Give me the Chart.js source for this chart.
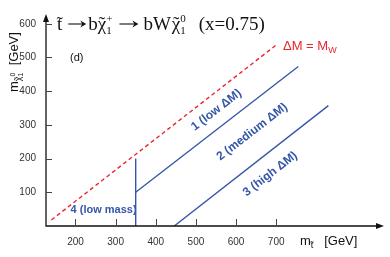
<!DOCTYPE html>
<html>
<head>
<meta charset="utf-8">
<script src="https://cdn.jsdelivr.net/npm/chart.js@4/dist/chart.umd.min.js"></script>
<style>
  html, body { margin: 0; padding: 0; background: #fff; }
  #wrap { width: 390px; height: 257px; }
</style>
</head>
<body>
<div id="wrap"><canvas id="regionsChart" width="390" height="257"></canvas></div>
<script>
// boundary lines of the search regions (schematic)
const deltaMwX = [140, 700];
const deltaMwY = [18, 537];
const lowDmX = [350, 755];
const lowDmY = [100, 473];
const lowMassX = [350, 350];
const lowMassY = [0, 200];
const highDmX = [446, 830];
const highDmY = [0, 357];

// axis ticks
const xTicks = [200, 300, 400, 500, 600, 700];
const yTicks = [100, 200, 300, 400, 500, 600];

// region labels: text and anchor in data units
const regionNames = ['1 (low \u0394M)', '2 (medium \u0394M)', '3 (high \u0394M)'];
const regionAnchorX = [551, 640, 685];
const regionAnchorY = [344, 279, 154];

const BLUE = '#3557a8';
const RED = '#e8262f';

const pts = (xs, ys) => xs.map((x, i) => ({ x: x, y: ys[i] }));

const lineSet = (label, xs, ys, color, dash) => ({
  label: label,
  data: pts(xs, ys),
  borderColor: color,
  borderWidth: 1.4,
  borderDash: dash || [],
  pointRadius: 0,
  fill: false,
  tension: 0,
});

// draws text with a small tilde above it, returns width
function tilded(ctx, txt, x, y) {
  ctx.fillText(txt, x, y);
  const w = ctx.measureText(txt).width;
  ctx.save();
  ctx.textAlign = 'center';
  ctx.fillText('\u02DC', x + w / 2, y);
  ctx.restore();
  return w;
}

// walks a list of pieces and draws them left to right
function drawPieces(ctx, pieces, x, y) {
  ctx.textAlign = 'left';
  ctx.textBaseline = 'alphabetic';
  let cx = x;
  pieces.forEach(p => {
    cx += p.pre || 0;
    if (p.arrow) {
      const ay = y - 6;
      ctx.save();
      ctx.strokeStyle = ctx.fillStyle;
      ctx.lineWidth = 1.1;
      ctx.beginPath();
      ctx.moveTo(cx, ay);
      ctx.lineTo(cx + p.arrow - 2, ay);
      ctx.stroke();
      ctx.beginPath();
      ctx.moveTo(cx + p.arrow, ay);
      ctx.lineTo(cx + p.arrow - 6, ay - 3.5);
      ctx.lineTo(cx + p.arrow - 4, ay);
      ctx.lineTo(cx + p.arrow - 6, ay + 3.5);
      ctx.closePath();
      ctx.fill();
      ctx.restore();
      cx += p.arrow;
    } else if (p.stack) {
      ctx.font = p.font;
      ctx.fillText(p.sup, cx, y + p.supDy);
      ctx.fillText(p.sub, cx, y + p.subDy);
      cx += Math.max(ctx.measureText(p.sup).width, ctx.measureText(p.sub).width);
    } else {
      ctx.font = p.font;
      if (p.tilde) cx += tilded(ctx, p.t, cx, y + (p.dy || 0));
      else {
        ctx.fillText(p.t, cx, y + (p.dy || 0));
        cx += ctx.measureText(p.t).width;
      }
    }
    cx += p.gap || 0;
  });
  return cx;
}

const decorations = {
  id: 'decorations',
  afterDraw(chart) {
    const ctx = chart.ctx;
    const a = chart.chartArea;
    const xs = chart.scales.x, ys = chart.scales.y;
    ctx.save();

    // axes with arrow heads
    ctx.strokeStyle = '#111';
    ctx.fillStyle = '#111';
    ctx.lineWidth = 1.3;
    ctx.beginPath();
    ctx.moveTo(a.left, a.top + 2);
    ctx.lineTo(a.left, a.bottom);
    ctx.lineTo(a.right - 2, a.bottom);
    ctx.stroke();
    ctx.beginPath();
    ctx.moveTo(a.left, a.top - 1);
    ctx.lineTo(a.left - 3, a.top + 7);
    ctx.lineTo(a.left + 3, a.top + 7);
    ctx.closePath();
    ctx.fill();
    ctx.beginPath();
    ctx.moveTo(a.right + 1, a.bottom);
    ctx.lineTo(a.right - 7, a.bottom - 3);
    ctx.lineTo(a.right - 7, a.bottom + 3);
    ctx.closePath();
    ctx.fill();

    // inward tick marks
    ctx.strokeStyle = '#444';
    ctx.lineWidth = 1;
    ctx.beginPath();
    xTicks.forEach(v => {
      const px = Math.round(xs.getPixelForValue(v)) + 0.5;
      ctx.moveTo(px, a.bottom);
      ctx.lineTo(px, a.bottom - 7);
    });
    yTicks.forEach(v => {
      const py = Math.round(ys.getPixelForValue(v)) + 0.5;
      ctx.moveTo(a.left, py);
      ctx.lineTo(a.left + 6, py);
    });
    ctx.stroke();

    // title
    ctx.fillStyle = '#111';
    const serif = "19px 'Liberation Serif', 'DejaVu Serif', serif";
    const serifSm = "11px 'Liberation Serif', 'DejaVu Serif', serif";
    drawPieces(ctx, [
      { t: 't', font: serif, tilde: true },
      { arrow: 18, pre: 6 },
      { t: 'b', font: serif, pre: 2 },
      { t: '\u03C7', font: serif, tilde: true },
      { stack: true, font: serifSm, sup: '+', sub: '1', supDy: -8, subDy: 4 },
      { arrow: 19, pre: 7 },
      { t: 'bW', font: serif, pre: 5 },
      { t: '\u03C7', font: serif, tilde: true, pre: 1 },
      { stack: true, font: serifSm, sup: '0', sub: '1', supDy: -8, subDy: 4 },
      { t: '(x=0.75)', font: serif, pre: 13 },
    ], 57, 30);

    // panel tag
    ctx.font = "11px 'Liberation Sans', Arial, sans-serif";
    ctx.fillText('(d)', 70, 61);

    // y axis title
    const sans = "13px 'Liberation Sans', Arial, sans-serif";
    const sansSm = "9px 'Liberation Sans', Arial, sans-serif";
    const sansXs = "7px 'Liberation Sans', Arial, sans-serif";
    ctx.save();
    ctx.translate(18, 92);
    ctx.rotate(-Math.PI / 2);
    drawPieces(ctx, [
      { t: 'm', font: sans },
      { t: '\u03C7', font: sansSm, tilde: true, dy: 3 },
      { stack: true, font: sansXs, sup: '0', sub: '1', supDy: -3, subDy: 5 },
      { t: '  [GeV]', font: sans },
    ], 0, 0);
    ctx.restore();

    // x axis title
    drawPieces(ctx, [
      { t: 'm', font: sans },
      { t: 't', font: sansSm, tilde: true, dy: 3 },
      { t: '   [GeV]', font: sans },
    ], 300, 245);

    // region labels rotated along the boundary slope
    const ang = Math.atan2(
      ys.getPixelForValue(lowDmY[1]) - ys.getPixelForValue(lowDmY[0]),
      xs.getPixelForValue(lowDmX[1]) - xs.getPixelForValue(lowDmX[0]));
    ctx.fillStyle = BLUE;
    ctx.font = "bold 12px 'Liberation Sans', Arial, sans-serif";
    ctx.textAlign = 'center';
    ctx.textBaseline = 'middle';
    regionNames.forEach((name, i) => {
      ctx.save();
      ctx.translate(xs.getPixelForValue(regionAnchorX[i]), ys.getPixelForValue(regionAnchorY[i]));
      ctx.rotate(ang);
      ctx.fillText(name, 0, 0);
      ctx.restore();
    });
    ctx.font = "bold 11px 'Liberation Sans', Arial, sans-serif";
    ctx.fillText('4 (low mass)', xs.getPixelForValue(270), ys.getPixelForValue(47));

    // red boundary label
    ctx.fillStyle = RED;
    ctx.textBaseline = 'alphabetic';
    drawPieces(ctx, [
      { t: '\u0394M = M', font: sans },
      { t: 'W', font: sansSm, dy: 3 },
    ], 283, 50);

    ctx.restore();
  }
};

new Chart(document.getElementById('regionsChart'), {
  type: 'line',
  data: {
    datasets: [
      lineSet('dM = MW', deltaMwX, deltaMwY, RED, [4, 3]),
      lineSet('low dM', lowDmX, lowDmY, BLUE),
      lineSet('low mass', lowMassX, lowMassY, BLUE),
      lineSet('high dM', highDmX, highDmY, BLUE),
    ],
  },
  options: {
    responsive: false,
    animation: false,
    layout: { padding: { top: 15, right: 7, left: 0, bottom: 0 } },
    plugins: { legend: { display: false }, tooltip: { enabled: false } },
    scales: {
      x: {
        type: 'linear',
        min: 126.6,
        max: 966,
        grid: { display: false },
        border: { display: false },
        afterBuildTicks: s => { s.ticks = xTicks.map(v => ({ value: v })); },
        afterFit: s => { s.height = 31; },
        ticks: { color: '#333', padding: 2, maxRotation: 0, font: { size: 10, family: "'Liberation Sans', Arial, sans-serif" } },
      },
      y: {
        min: 0,
        max: 626,
        grid: { display: false },
        border: { display: false },
        afterBuildTicks: s => { s.ticks = yTicks.map(v => ({ value: v })); },
        afterFit: s => { s.width = 46; },
        ticks: { color: '#333', padding: 2, font: { size: 10, family: "'Liberation Sans', Arial, sans-serif" } },
      },
    },
  },
  plugins: [decorations],
});
</script>
</body>
</html>
